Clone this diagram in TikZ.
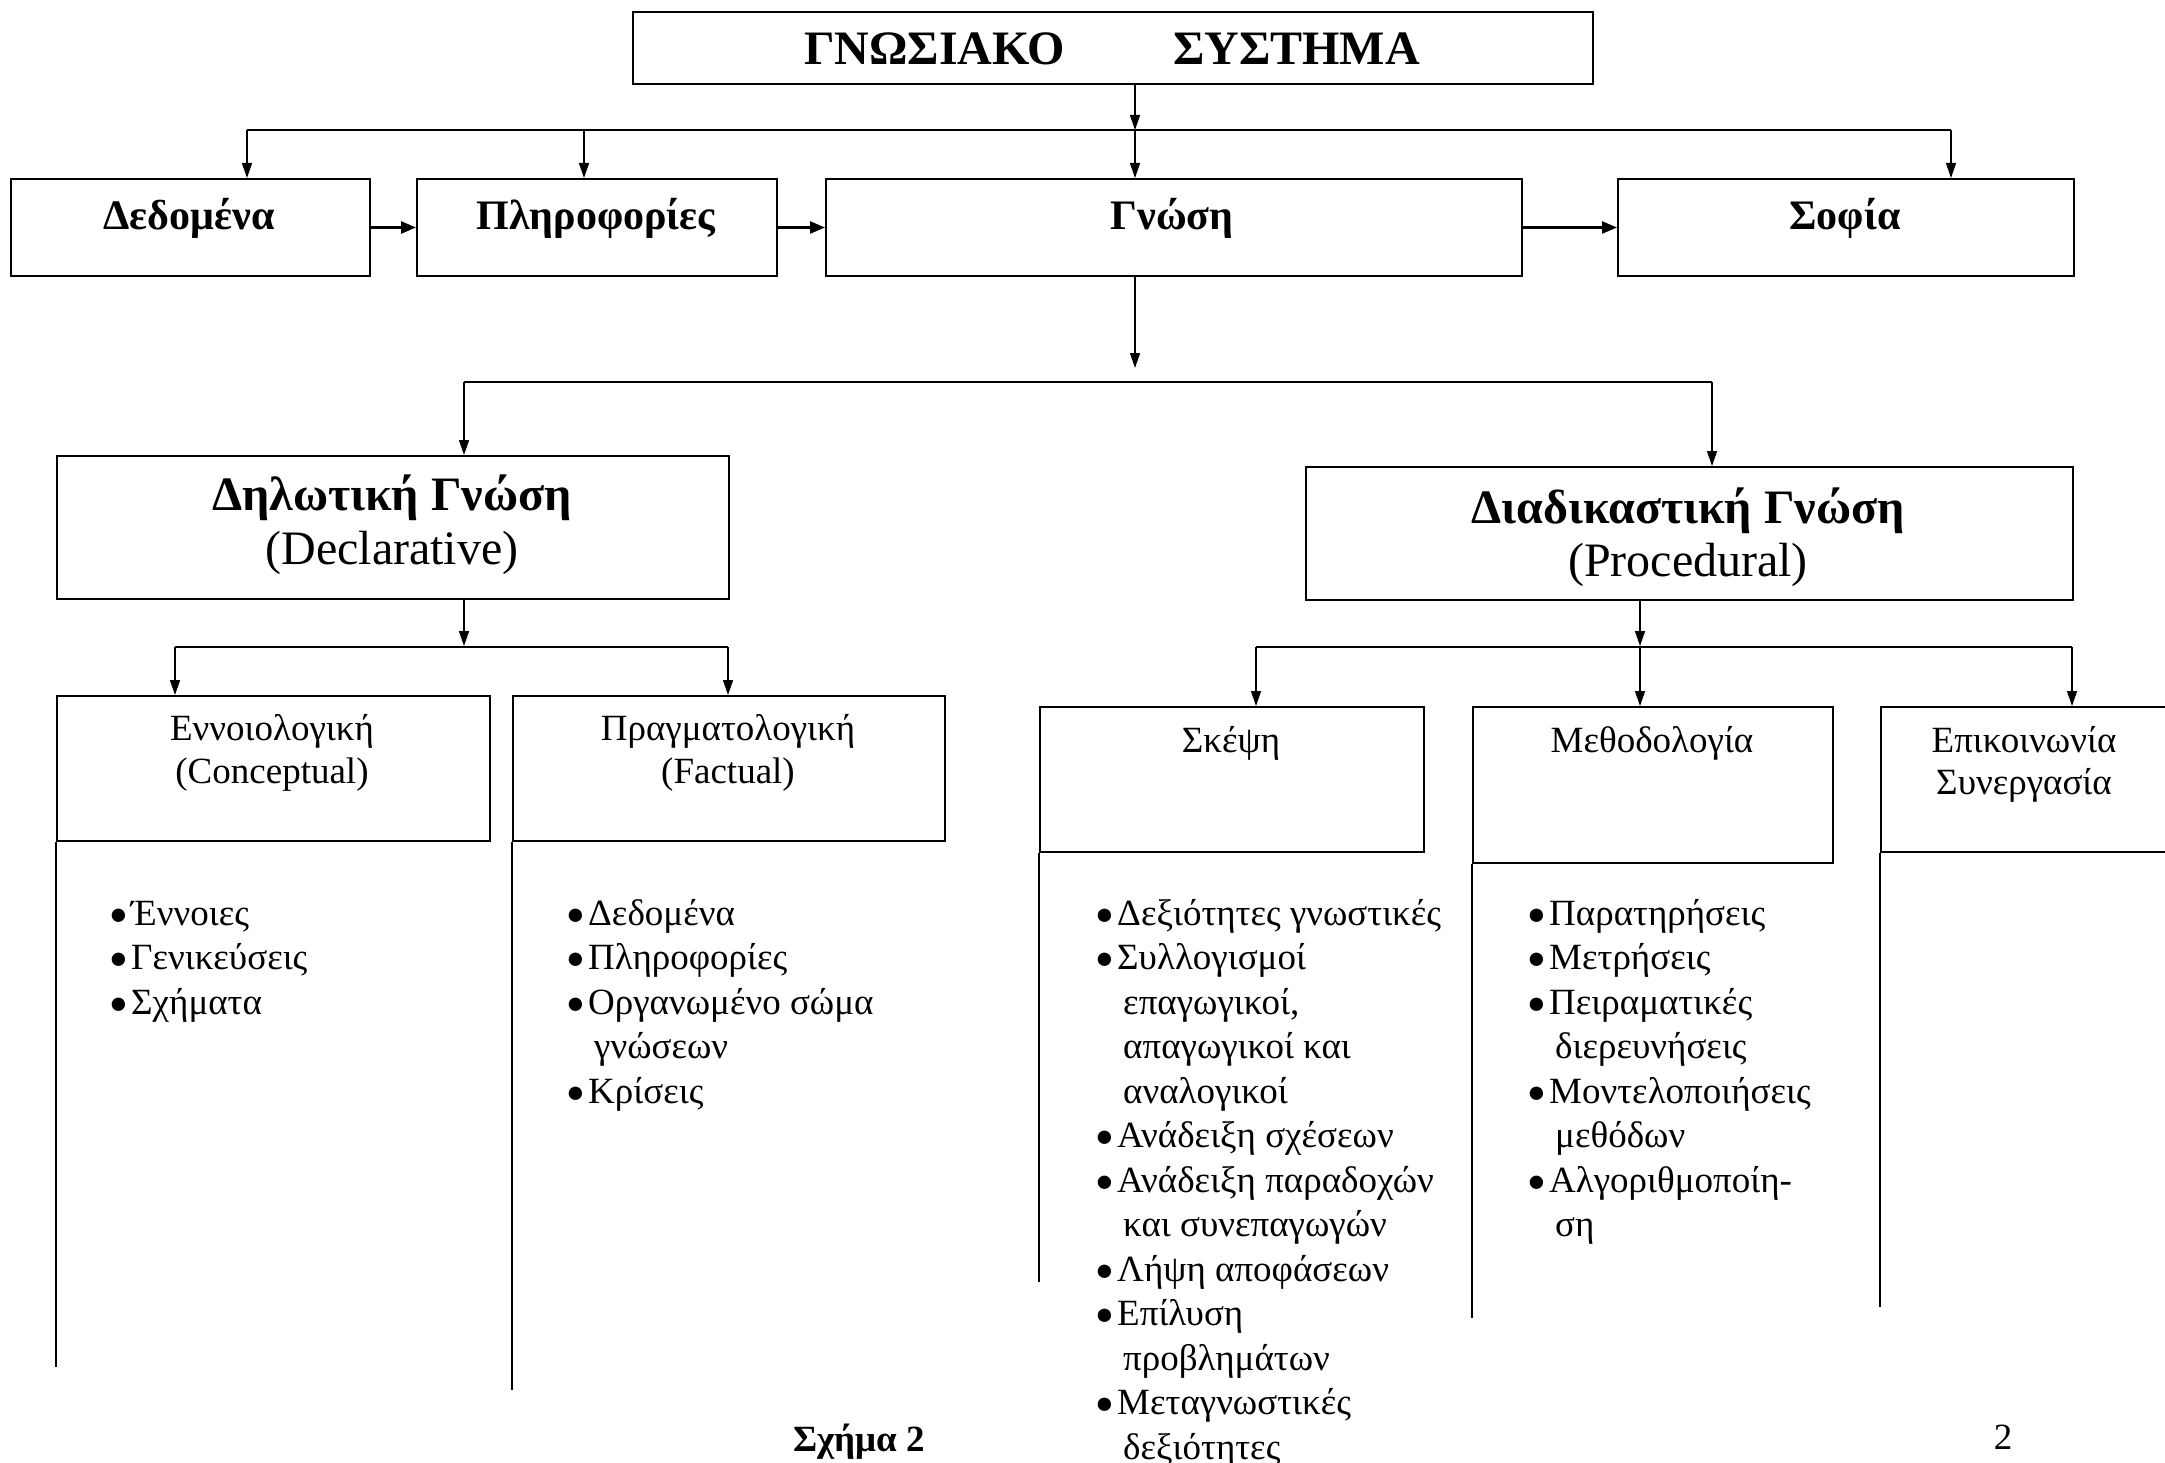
\documentclass[tikz,border=0pt]{standalone}
\usepackage{fontspec}
\setmainfont{Liberation Serif}
\usetikzlibrary{arrows.meta}
\newcommand\fs[1]{\fontsize{#1}{#1}\selectfont}
\newcommand\bdot{\smash{\raisebox{1pt}{\fs{31}●}}}
\newcommand\bitem[1]{\hbox{\makebox[19pt][l]{\hspace*{-3pt}\bdot}#1}}
\newcommand\citem[1]{\hbox{\hspace*{25pt}#1}}
\newcommand\blist[1]{\vtop{\baselineskip=44.5pt\lineskiplimit=-100pt #1}}
\begin{document}
\begin{tikzpicture}[x=1pt,y=-1pt,
  box/.style={draw, line width=2pt, inner sep=0, anchor=north west},
  conn/.style={line width=1.5pt, -{Triangle[length=15pt,width=10pt]}},
  harr/.style={line width=2.5pt, -{Triangle[length=15pt,width=12pt]}},
  plain/.style={line width=1.5pt},
  side/.style={line width=2pt},
  txt/.style={inner sep=0, anchor=base},
  lst/.style={inner sep=0, anchor=base west, font=\fs{37}}]
\clip (0,0) rectangle (2165,1463);
\fill[white] (0,0) rectangle (2165,1463);

% boxes
\node[box, minimum width=960pt, minimum height=72pt] (title) at (632,11) {};
\node[box, minimum width=359pt, minimum height=97pt] (dedomena) at (10,178) {};
\node[box, minimum width=360pt, minimum height=97pt] (plir) at (416,178) {};
\node[box, minimum width=696pt, minimum height=97pt] (gnosi) at (825,178) {};
\node[box, minimum width=456pt, minimum height=97pt] (sofia) at (1617,178) {};
\node[box, minimum width=672pt, minimum height=143pt] (dilot) at (56,455) {};
\node[box, minimum width=767pt, minimum height=133pt] (diad) at (1305,466) {};
\node[box, minimum width=433pt, minimum height=145pt] (ennoio) at (56,695) {};
\node[box, minimum width=432pt, minimum height=145pt] (pragm) at (512,695) {};
\node[box, minimum width=384pt, minimum height=145pt] (skepsi) at (1039,706) {};
\node[box, minimum width=360pt, minimum height=156pt] (meth) at (1472,706) {};
\node[box, minimum width=295pt, minimum height=145pt] (epik) at (1880,706) {};

% texts
\node[txt, font=\fs{48}\bfseries] (ttitle) at (1112,65) {ΓΝΩΣΙΑΚΟ\hspace{108pt}ΣΥΣΤΗΜΑ};
\node[txt, font=\fs{42}\bfseries] (tded) at (189,230) {Δεδομένα};
\node[txt, font=\fs{42}\bfseries] (tpl) at (596,230) {Πληροφορίες};
\node[txt, font=\fs{42}\bfseries] (tgn) at (1172,230) {Γνώση};
\node[txt, font=\fs{42}\bfseries] (tso) at (1845,230) {Σοφία};
\node[txt, font=\fs{48}\bfseries] (tdil) at (392,510) {Δηλωτική Γνώση};
\node[txt, font=\fs{48}] (tdil2) at (392,564) {(Declarative)};
\node[txt, font=\fs{48}\bfseries] (tdia) at (1688,523) {Διαδικαστική Γνώση};
\node[txt, font=\fs{48}] (tdia2) at (1688,576) {(Procedural)};
\node[txt, font=\fs{37}] (ten) at (272,740) {Εννοιολογική};
\node[txt, font=\fs{37}] (ten2) at (272,783) {(Conceptual)};
\node[txt, font=\fs{37}] (tpr) at (728,740) {Πραγματολογική};
\node[txt, font=\fs{37}] (tpr2) at (728,783) {(Factual)};
\node[txt, font=\fs{37}] (tsk) at (1231,752) {Σκέψη};
\node[txt, font=\fs{37}] (tme) at (1652,752) {Μεθοδολογία};
\node[txt, font=\fs{37}] (tep) at (2024,752) {Επικοινωνία};
\node[txt, font=\fs{37}] (tep2) at (2024,794) {Συνεργασία};

% lists
\node[lst] (l1) at (112,925) {\blist{\bitem{Έννοιες}\bitem{Γενικεύσεις}\bitem{Σχήματα}}};
\node[lst] (l2) at (569,925) {\blist{\bitem{Δεδομένα}\bitem{Πληροφορίες}\bitem{Οργανωμένο σώμα}\citem{γνώσεων}\bitem{Κρίσεις}}};
\node[lst] (l3) at (1098,925) {\blist{\bitem{Δεξιότητες γνωστικές}\bitem{Συλλογισμοί}\citem{επαγωγικοί,}\citem{απαγωγικοί και}\citem{αναλογικοί}\bitem{Ανάδειξη σχέσεων}\bitem{Ανάδειξη παραδοχών}\citem{και συνεπαγωγών}\bitem{Λήψη αποφάσεων}\bitem{Επίλυση}\citem{προβλημάτων}\bitem{Μεταγνωστικές}\citem{δεξιότητες}}};
\node[lst] (l4) at (1530,925) {\blist{\bitem{Παρατηρήσεις}\bitem{Μετρήσεις}\bitem{Πειραματικές}\citem{διερευνήσεις}\bitem{Μοντελοποιήσεις}\citem{μεθόδων}\bitem{Αλγοριθμοποίη-}\citem{ση}}};

\node[txt, font=\fs{37}\bfseries] (fig) at (859,1451) {Σχήμα 2};
\node[txt, font=\fs{37}] (page) at (2003,1449) {2};

% coordinates
\coordinate (jb) at (1135,130);
\coordinate (b1L) at (247,130);
\coordinate (b1P) at (584,130);
\coordinate (b1R) at (1951,130);
\coordinate (g2) at (1135,368);
\coordinate (b2L) at (464,382);
\coordinate (b2R) at (1712,382);
\coordinate (d3) at (464,646);
\coordinate (b3L) at (175,647);
\coordinate (b3R) at (728,647);
\coordinate (d4) at (1640,646);
\coordinate (b4L) at (1256,647);
\coordinate (b4M) at (1640,647);
\coordinate (b4R) at (2072,647);
\coordinate (e1) at (56,1367);
\coordinate (e2) at (512,1390);
\coordinate (e3) at (1039,1282);
\coordinate (e4) at (1472,1318);
\coordinate (e5) at (1880,1307);

% connectors
\draw[conn] (title.south -| jb) -- (jb);
\draw[plain] (b1L) -- (b1R);
\draw[conn] (b1L) -- (b1L |- dedomena.north);
\draw[conn] (b1P) -- (b1P |- plir.north);
\draw[conn] (jb) -- (jb |- gnosi.north);
\draw[conn] (b1R) -- (b1R |- sofia.north);
\draw[harr] (dedomena.east) -- (plir.west);
\draw[harr] (plir.east) -- (gnosi.west);
\draw[harr] (gnosi.east) -- (sofia.west);

\draw[conn] (gnosi.south -| g2) -- (g2);
\draw[plain] (b2L) -- (b2R);
\draw[conn] (b2L) -- (b2L |- dilot.north);
\draw[conn] (b2R) -- (b2R |- diad.north);

\draw[conn] (dilot.south -| d3) -- (d3);
\draw[plain] (b3L) -- (b3R);
\draw[conn] (b3L) -- (b3L |- ennoio.north);
\draw[conn] (b3R) -- (b3R |- pragm.north);

\draw[conn] (diad.south -| d4) -- (d4);
\draw[plain] (b4L) -- (b4R);
\draw[conn] (b4L) -- (b4L |- skepsi.north);
\draw[conn] (b4M) -- (b4M |- meth.north);
\draw[conn] (b4R) -- (b4R |- epik.north);

\draw[side] (ennoio.south west) -- (e1);
\draw[side] (pragm.south west) -- (e2);
\draw[side] (skepsi.south west) -- (e3);
\draw[side] (meth.south west) -- (e4);
\draw[side] (epik.south west) -- (e5);
\end{tikzpicture}
\end{document}
